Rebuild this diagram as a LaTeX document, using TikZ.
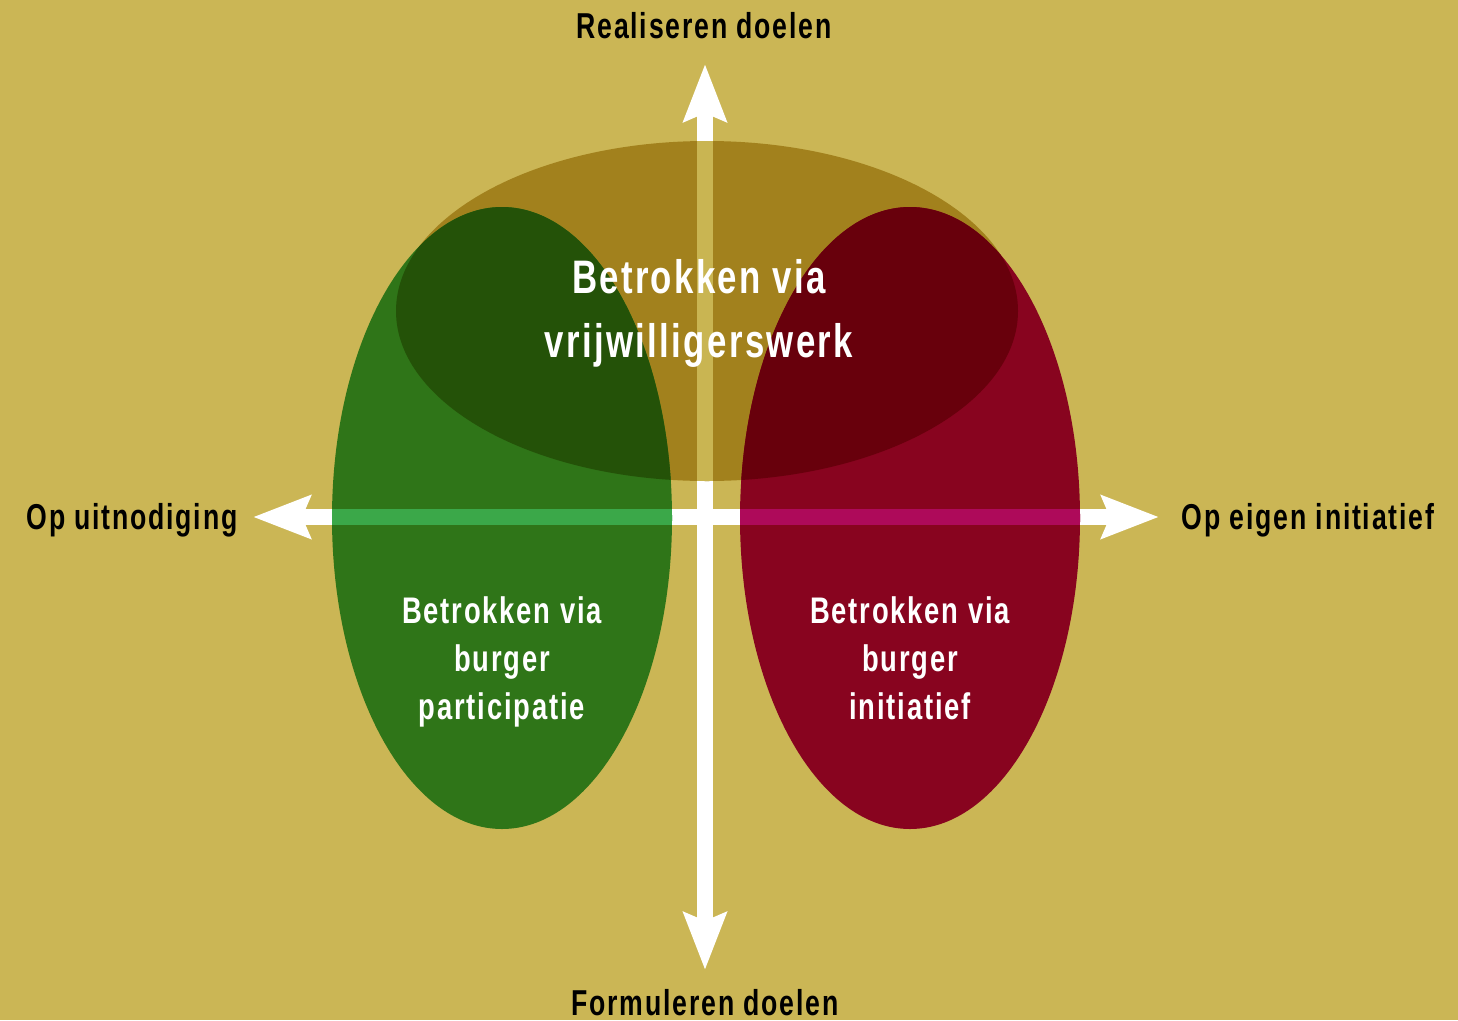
\documentclass[tikz,border=0pt]{standalone}
\usepackage{fontspec}
\newfontfamily\cond[FakeStretch=0.74,LetterSpace=5]{Liberation Sans}
\usetikzlibrary{arrows.meta}
\definecolor{bg}{HTML}{CBB655}
\definecolor{topc}{HTML}{A2811D}
\definecolor{topstrip}{HTML}{C9B552}
\definecolor{grn}{HTML}{2F7518}
\definecolor{grndark}{HTML}{245208}
\definecolor{grnstrip}{HTML}{3BA849}
\definecolor{rd}{HTML}{88041F}
\definecolor{rddark}{HTML}{68000C}
\definecolor{rdstrip}{HTML}{AE0A5A}
\tikzset{
  axis/.style={white,line width=16pt,-{Stealth[length=57pt,width=42pt,inset=8pt]}},
  axlabel/.style={anchor=base,inner sep=0pt,font=\cond\bfseries\fontsize{36}{40}\selectfont,text=black},
  inlabel/.style={anchor=base,inner sep=0pt,font=\cond\bfseries\fontsize{37}{48}\selectfont,text=white,align=center},
  toplabel/.style={anchor=base,inner sep=0pt,font=\cond\bfseries\fontsize{47}{64}\selectfont,text=white,align=center},
}
\begin{document}
\begin{tikzpicture}[x=1pt,y=-1pt]
\fill[bg] (0,0) rectangle (1458,1020);
\useasboundingbox (0,0) rectangle (1458,1020);
% axes
\coordinate (c) at (705,517);
\coordinate (up) at (705,64);
\coordinate (down) at (705,970);
\coordinate (left) at (253,517);
\coordinate (right) at (1159,517);
\draw[axis] (c) -- (up);
\draw[axis] (c) -- (down);
\draw[axis] (c) -- (left);
\draw[axis] (c) -- (right);
% top ellipse
\fill[topc] (707,311) ellipse [x radius=311, y radius=170];
\begin{scope}
  \clip (707,311) ellipse [x radius=311, y radius=170];
  \fill[topstrip] (697,100) rectangle (713,520);
\end{scope}
% green ellipse
\fill[grn] (502,518) ellipse [x radius=170, y radius=311];
\begin{scope}
  \clip (502,518) ellipse [x radius=170, y radius=311];
  \fill[grnstrip] (300,509) rectangle (700,525);
  \clip (707,311) ellipse [x radius=311, y radius=170];
  \fill[grndark] (300,100) rectangle (720,520);
\end{scope}
% red ellipse
\fill[rd] (910,518) ellipse [x radius=170, y radius=311];
\begin{scope}
  \clip (910,518) ellipse [x radius=170, y radius=311];
  \fill[rdstrip] (700,509) rectangle (1100,525);
  \clip (707,311) ellipse [x radius=311, y radius=170];
  \fill[rddark] (700,100) rectangle (1100,520);
\end{scope}
% axis labels
\node[axlabel] (lup) at (704,38) {Realiseren doelen};
\node[axlabel] (ldown) at (705,1015) {Formuleren doelen};
\node[axlabel] (lleft) at (132,529) {Op uitnodiging};
\node[axlabel] (lright) at (1308,529) {Op eigen initiatief};
% inner labels (anchor base = last line)
\node[toplabel] (ltop) at (699,357) {Betrokken via\\vrijwilligerswerk};
\node[inlabel] (lgreen) at (502,719) {Betrokken via\\burger\\participatie};
\node[inlabel] (lred) at (910,719) {Betrokken via\\burger\\initiatief};
\end{tikzpicture}
\end{document}
